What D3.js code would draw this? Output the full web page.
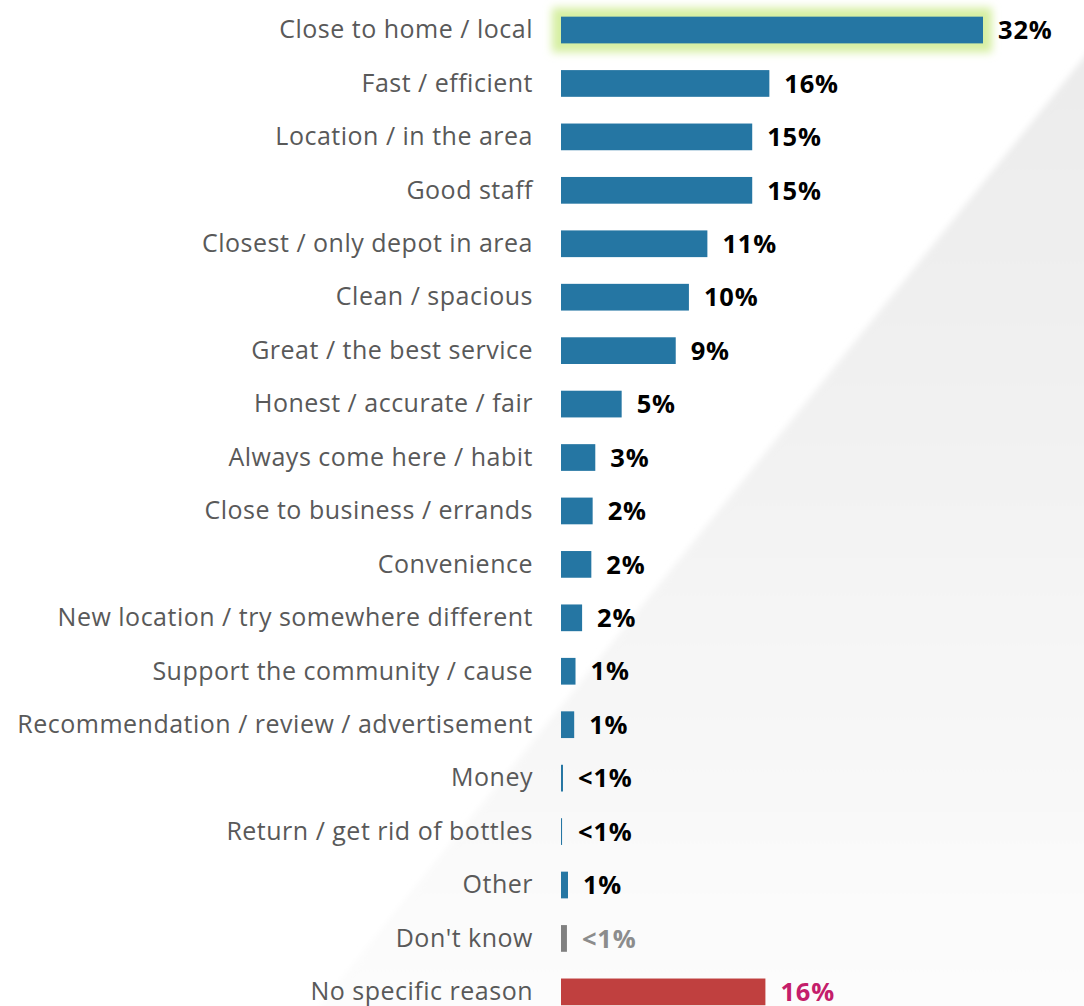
<!DOCTYPE html>
<html>
<head>
<meta charset="utf-8">
<script src="https://cdn.jsdelivr.net/npm/d3@7"></script>
<style>
  html, body { margin: 0; padding: 0; background: #ffffff; }
  svg { display: block; }
</style>
</head>
<body>
<svg id="chart" width="1084" height="1006"></svg>
<script>
// Reasons for choosing this depot (% of respondents)
const categories = [
  "Close to home / local",
  "Fast / efficient",
  "Location / in the area",
  "Good staff",
  "Closest / only depot in area",
  "Clean / spacious",
  "Great / the best service",
  "Honest / accurate / fair",
  "Always come here / habit",
  "Close to business / errands",
  "Convenience",
  "New location / try somewhere different",
  "Support the community / cause",
  "Recommendation / review / advertisement",
  "Money",
  "Return / get rid of bottles",
  "Other",
  "Don't know",
  "No specific reason"
];
const values = [32.0, 15.8, 14.5, 14.5, 11.1, 9.7, 8.7, 4.6, 2.6, 2.4, 2.3, 1.6, 1.1, 1.0, 0.15, 0.08, 0.53, 0.45, 15.5];
// row type: main reasons, non-answer ("Don't know") and the "no reason" row
const kinds = ["main","main","main","main","main","main","main","main","main","main","main","main","main","main","main","main","main","dk","none"];

const W = 1084, H = 1006;
const x0 = 561;

const svg = d3.select("#chart");
const defs = svg.append("defs");

// soft grey backdrop panel with a diagonal edge
const grad = defs.append("linearGradient").attr("id", "panelGrad")
  .attr("x1", 0).attr("y1", 0).attr("x2", 0).attr("y2", 1);
grad.append("stop").attr("offset", "0%").attr("stop-color", "#ebebeb");
grad.append("stop").attr("offset", "55%").attr("stop-color", "#f4f4f4");
grad.append("stop").attr("offset", "100%").attr("stop-color", "#fdfdfd");
defs.append("filter").attr("id", "soft").attr("x", "-5%").attr("y", "-5%").attr("width", "110%").attr("height", "110%")
  .append("feGaussianBlur").attr("stdDeviation", 3);

svg.append("path")
  .attr("d", "M1110,32 L1110,1030 L300,1030 L1090,50 Z")
  .attr("fill", "url(#panelGrad)")
  .attr("filter", "url(#soft)");

// green halo behind the leading reason
defs.append("filter").attr("id", "halo")
  .attr("filterUnits", "userSpaceOnUse")
  .attr("x", 520).attr("y", -30).attr("width", 520).attr("height", 120)
  .append("feGaussianBlur").attr("stdDeviation", 4.5);

const y = d3.scaleBand()
  .domain(categories)
  .range([3.3, 1018.6])
  .paddingInner(0.5)
  .paddingOuter(0.25);

const x = d3.scaleLinear().domain([0, 32]).range([x0, 983]);

const data = categories.map((c, i) => ({ cat: c, v: values[i], kind: kinds[i] }));

const barColor = d => d.kind === "none" ? "#c0403f" : d.kind === "dk" ? "#808080" : "#2576a3";
const labelColor = d => d.kind === "none" ? "#c41e6b" : d.kind === "dk" ? "#8c8c8c" : "#000000";
const fmt = v => v < 0.5 ? "<1%" : Math.round(v) + "%";

const haloPad = 9;
svg.append("rect")
  .attr("x", x(0) - haloPad).attr("y", y(categories[0]) - haloPad)
  .attr("width", x(values[0]) - x(0) + haloPad * 2).attr("height", y.bandwidth() + haloPad * 2)
  .attr("fill", "#d6efa2")
  .attr("filter", "url(#halo)");

svg.append("g").selectAll("rect")
  .data(data)
  .join("rect")
  .attr("x", x(0))
  .attr("y", d => y(d.cat))
  .attr("width", d => Math.max(1, x(d.v) - x(0)))
  .attr("height", y.bandwidth())
  .attr("fill", barColor);

// category labels
svg.append("g").selectAll("text")
  .data(data)
  .join("text")
  .attr("x", 533)
  .attr("y", d => y(d.cat) + y.bandwidth() / 2)
  .attr("dy", "0.33em")
  .attr("text-anchor", "end")
  .attr("font-family", "'Open Sans', sans-serif")
  .attr("font-size", 25)
  .attr("letter-spacing", 0.5)
  .attr("fill", "#595959")
  .text(d => d.cat);

// value labels
svg.append("g").selectAll("text")
  .data(data)
  .join("text")
  .attr("x", d => Math.max(x(d.v), x(0) + 2) + 15)
  .attr("y", d => y(d.cat) + y.bandwidth() / 2)
  .attr("dy", "0.36em")
  .attr("font-family", "'Open Sans', sans-serif")
  .attr("font-weight", "bold")
  .attr("font-size", 25.5)
  .attr("letter-spacing", 0.8)
  .attr("fill", labelColor)
  .text(d => fmt(d.v));
</script>
</body>
</html>
